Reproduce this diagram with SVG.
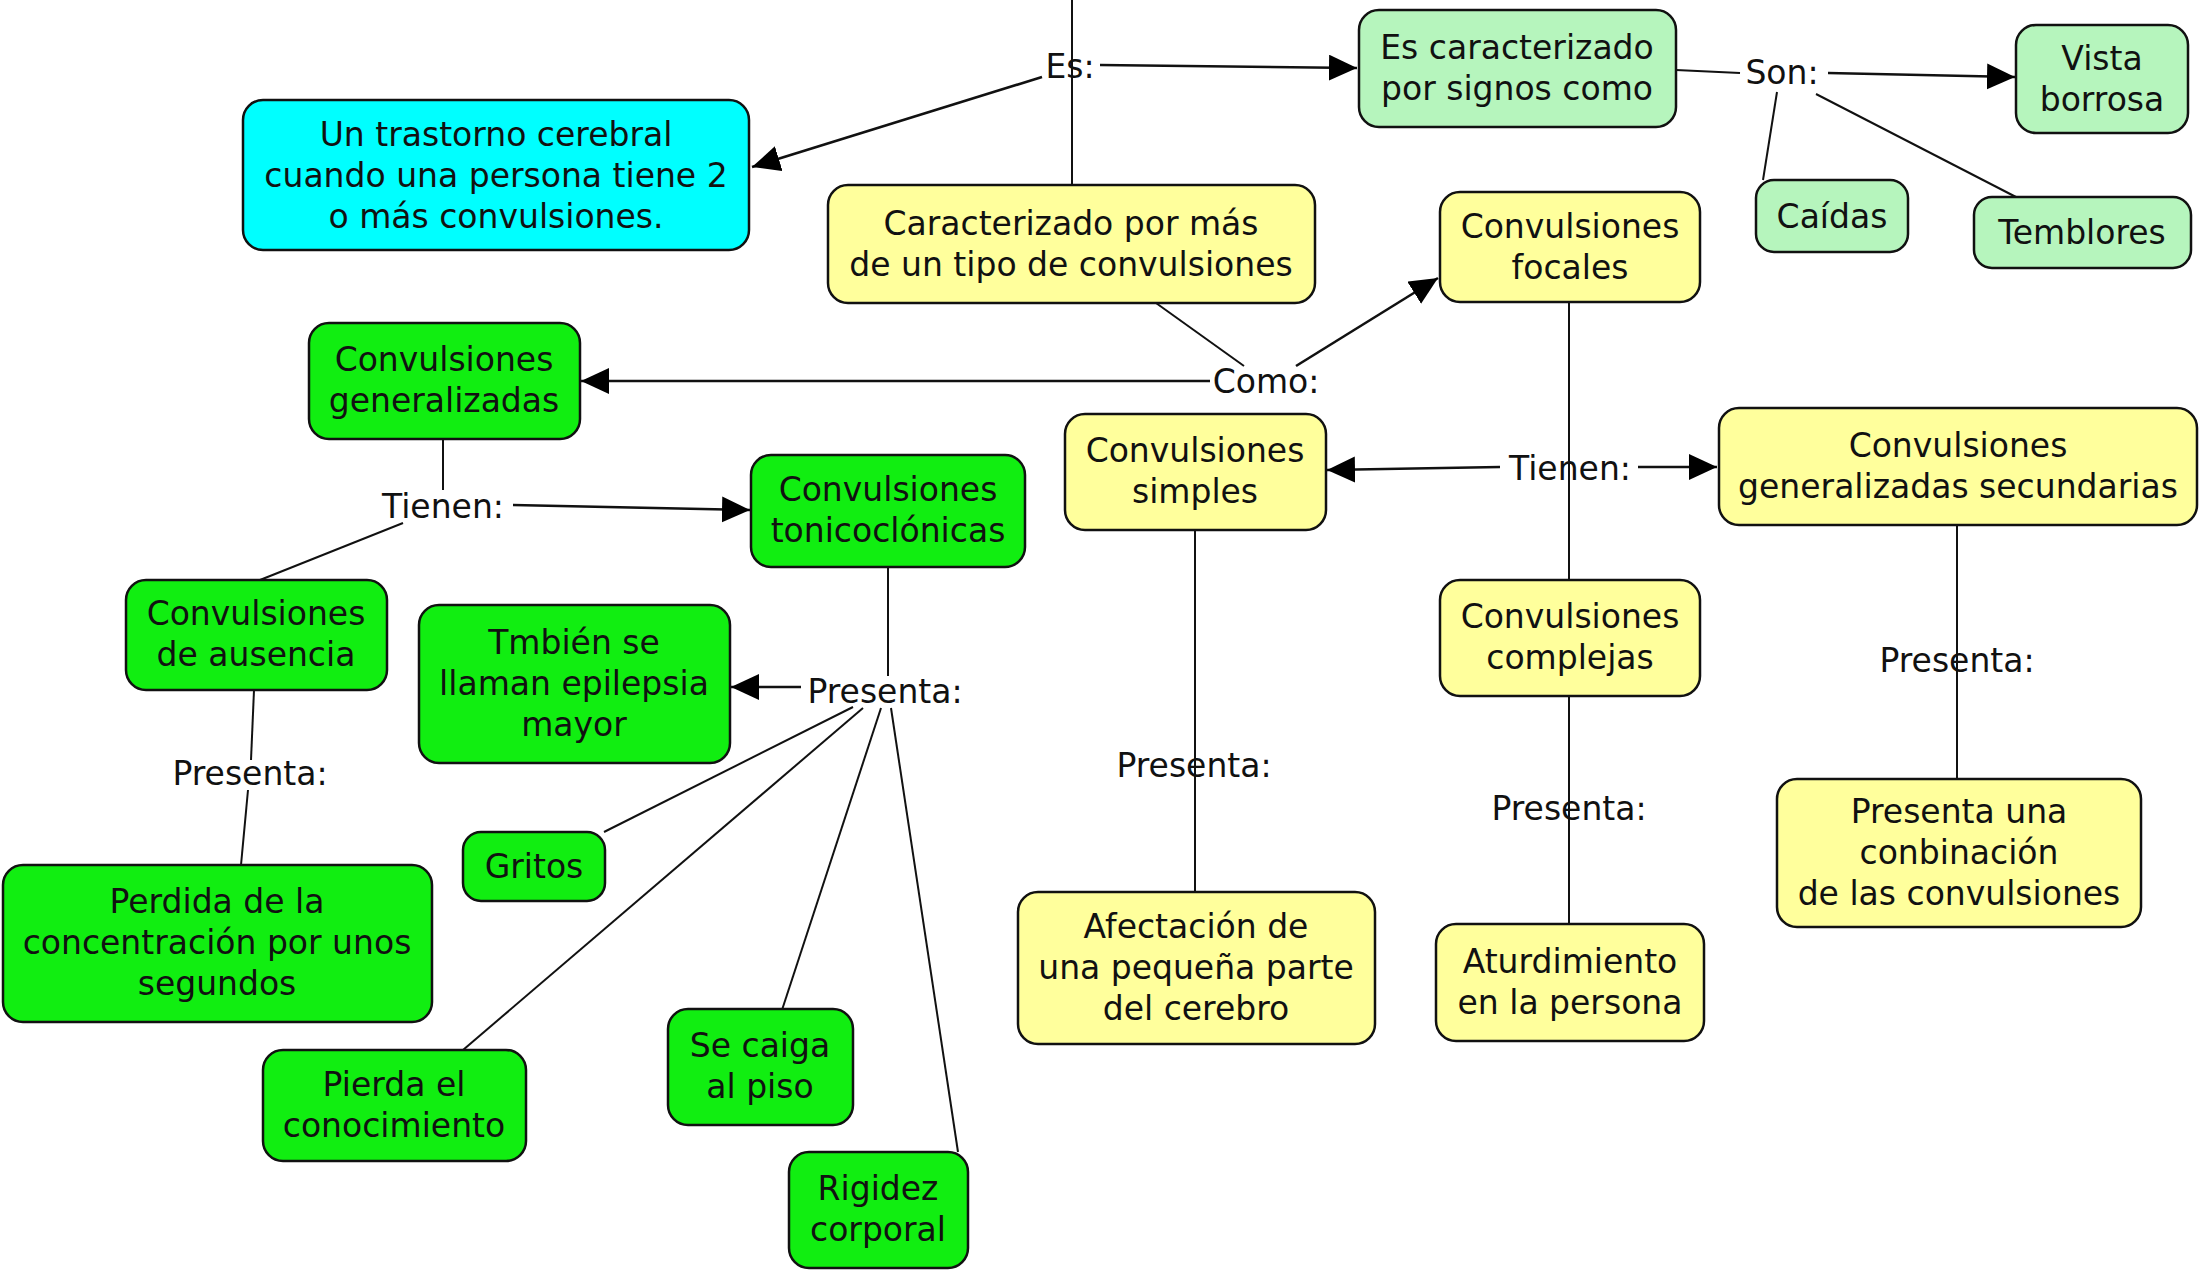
<svg xmlns="http://www.w3.org/2000/svg" width="2200" height="1271" viewBox="0 0 2200 1271">
<style>
.box{stroke:#111;stroke-width:2.5}
.cyan{fill:#00ffff}
.mint{fill:#b6f5bd}
.yel{fill:#ffff9c}
.grn{fill:#11ee11}
text{font-family:"DejaVu Sans","Liberation Sans",sans-serif;font-size:33px;fill:#111;text-anchor:middle}
.lnk line{stroke:#111;stroke-width:2}
.lnk line.ar{stroke-width:2.6}
</style>
<defs>
<marker id="arr" markerUnits="userSpaceOnUse" markerWidth="30" markerHeight="28" refX="28" refY="13" orient="auto">
<path d="M0,0 L28,13 L0,26 z" fill="#000"/>
</marker>
</defs>
<rect width="2200" height="1271" fill="#fff"/>
<g id="connectors" class="lnk">
<line x1="1072" y1="0" x2="1072" y2="185"/>
<line class="ar" x1="1042" y1="77" x2="752" y2="167" marker-end="url(#arr)"/>
<line class="ar" x1="1100" y1="65" x2="1357" y2="68" marker-end="url(#arr)"/>
<line x1="1676" y1="70" x2="1740" y2="73"/>
<line class="ar" x1="1828" y1="73" x2="2015" y2="77" marker-end="url(#arr)"/>
<line x1="1777" y1="92" x2="1763" y2="180"/>
<line x1="1816" y1="94" x2="2016" y2="197"/>
<line x1="1156" y1="303" x2="1244" y2="366"/>
<line class="ar" x1="1296" y1="366" x2="1438" y2="278" marker-end="url(#arr)"/>
<line class="ar" x1="1210" y1="381" x2="581" y2="381" marker-end="url(#arr)"/>
<line x1="443" y1="439" x2="443" y2="490"/>
<line class="ar" x1="513" y1="505" x2="750" y2="510" marker-end="url(#arr)"/>
<line x1="403" y1="523" x2="260" y2="580"/>
<line x1="888" y1="567" x2="888" y2="676"/>
<line class="ar" x1="801" y1="687" x2="731" y2="687" marker-end="url(#arr)"/>
<line x1="853" y1="707" x2="604" y2="832"/>
<line x1="863" y1="708" x2="463" y2="1050"/>
<line x1="881" y1="708" x2="782" y2="1010"/>
<line x1="891" y1="708" x2="958" y2="1152"/>
<line x1="254" y1="690" x2="251" y2="760"/>
<line x1="248" y1="790" x2="241" y2="865"/>
<line x1="1569" y1="302" x2="1569" y2="580"/>
<line class="ar" x1="1500" y1="467" x2="1327" y2="470" marker-end="url(#arr)"/>
<line class="ar" x1="1638" y1="467" x2="1717" y2="467" marker-end="url(#arr)"/>
<line x1="1195" y1="530" x2="1195" y2="892"/>
<line x1="1569" y1="696" x2="1569" y2="924"/>
<line x1="1957" y1="525" x2="1957" y2="779"/>
</g>
<g id="labels">
<text x="1070" y="78">Es:</text>
<text x="1782" y="84">Son:</text>
<text x="1266" y="393">Como:</text>
<text x="443" y="518">Tienen:</text>
<text x="885" y="703">Presenta:</text>
<text x="250" y="785">Presenta:</text>
<text x="1570" y="480">Tienen:</text>
<text x="1194" y="777">Presenta:</text>
<text x="1569" y="820">Presenta:</text>
<text x="1957" y="672">Presenta:</text>
</g>
<g id="n_trastorno"><rect class="box cyan" x="243" y="100" width="506" height="150" rx="20"/>
<text x="496" y="146">Un trastorno cerebral</text><text x="496" y="187">cuando una persona tiene 2</text><text x="496" y="228">o más convulsiones.</text></g>
<g id="n_signos"><rect class="box mint" x="1359" y="10" width="317" height="117" rx="20"/>
<text x="1517" y="59">Es caracterizado</text><text x="1517" y="100">por signos como</text></g>
<g id="n_vista"><rect class="box mint" x="2016" y="25" width="172" height="108" rx="20"/>
<text x="2102" y="70">Vista</text><text x="2102" y="111">borrosa</text></g>
<g id="n_caidas"><rect class="box mint" x="1756" y="180" width="152" height="72" rx="18"/>
<text x="1832" y="228">Caídas</text></g>
<g id="n_temblores"><rect class="box mint" x="1974" y="197" width="217" height="71" rx="18"/>
<text x="2082" y="244">Temblores</text></g>
<g id="n_caracterizado"><rect class="box yel" x="828" y="185" width="487" height="118" rx="20"/>
<text x="1071" y="235">Caracterizado por más</text><text x="1071" y="276">de un tipo de convulsiones</text></g>
<g id="n_focales"><rect class="box yel" x="1440" y="192" width="260" height="110" rx="20"/>
<text x="1570" y="238">Convulsiones</text><text x="1570" y="279">focales</text></g>
<g id="n_generalizadas"><rect class="box grn" x="309" y="323" width="271" height="116" rx="20"/>
<text x="444" y="371">Convulsiones</text><text x="444" y="412">generalizadas</text></g>
<g id="n_simples"><rect class="box yel" x="1065" y="414" width="261" height="116" rx="20"/>
<text x="1195" y="462">Convulsiones</text><text x="1195" y="503">simples</text></g>
<g id="n_secundarias"><rect class="box yel" x="1719" y="408" width="478" height="117" rx="20"/>
<text x="1958" y="457">Convulsiones</text><text x="1958" y="498">generalizadas secundarias</text></g>
<g id="n_complejas"><rect class="box yel" x="1440" y="580" width="260" height="116" rx="20"/>
<text x="1570" y="628">Convulsiones</text><text x="1570" y="669">complejas</text></g>
<g id="n_tonico"><rect class="box grn" x="751" y="455" width="274" height="112" rx="20"/>
<text x="888" y="501">Convulsiones</text><text x="888" y="542">tonicoclónicas</text></g>
<g id="n_ausencia"><rect class="box grn" x="126" y="580" width="261" height="110" rx="20"/>
<text x="256" y="625">Convulsiones</text><text x="256" y="666">de ausencia</text></g>
<g id="n_tambien"><rect class="box grn" x="419" y="605" width="311" height="158" rx="20"/>
<text x="574" y="654">Tmbién se</text><text x="574" y="695">llaman epilepsia</text><text x="574" y="736">mayor</text></g>
<g id="n_gritos"><rect class="box grn" x="463" y="832" width="142" height="69" rx="18"/>
<text x="534" y="878">Gritos</text></g>
<g id="n_perdida"><rect class="box grn" x="3" y="865" width="429" height="157" rx="20"/>
<text x="217" y="913">Perdida de la</text><text x="217" y="954">concentración por unos</text><text x="217" y="995">segundos</text></g>
<g id="n_pierda"><rect class="box grn" x="263" y="1050" width="263" height="111" rx="20"/>
<text x="394" y="1096">Pierda el</text><text x="394" y="1137">conocimiento</text></g>
<g id="n_secaiga"><rect class="box grn" x="668" y="1009" width="185" height="116" rx="20"/>
<text x="760" y="1057">Se caiga</text><text x="760" y="1098">al piso</text></g>
<g id="n_rigidez"><rect class="box grn" x="789" y="1152" width="179" height="116" rx="20"/>
<text x="878" y="1200">Rigidez</text><text x="878" y="1241">corporal</text></g>
<g id="n_afectacion"><rect class="box yel" x="1018" y="892" width="357" height="152" rx="20"/>
<text x="1196" y="938">Afectación de</text><text x="1196" y="979">una pequeña parte</text><text x="1196" y="1020">del cerebro</text></g>
<g id="n_aturdimiento"><rect class="box yel" x="1436" y="924" width="268" height="117" rx="20"/>
<text x="1570" y="973">Aturdimiento</text><text x="1570" y="1014">en la persona</text></g>
<g id="n_conbinacion"><rect class="box yel" x="1777" y="779" width="364" height="148" rx="20"/>
<text x="1959" y="823">Presenta una</text><text x="1959" y="864">conbinación</text><text x="1959" y="905">de las convulsiones</text></g>
</svg>
